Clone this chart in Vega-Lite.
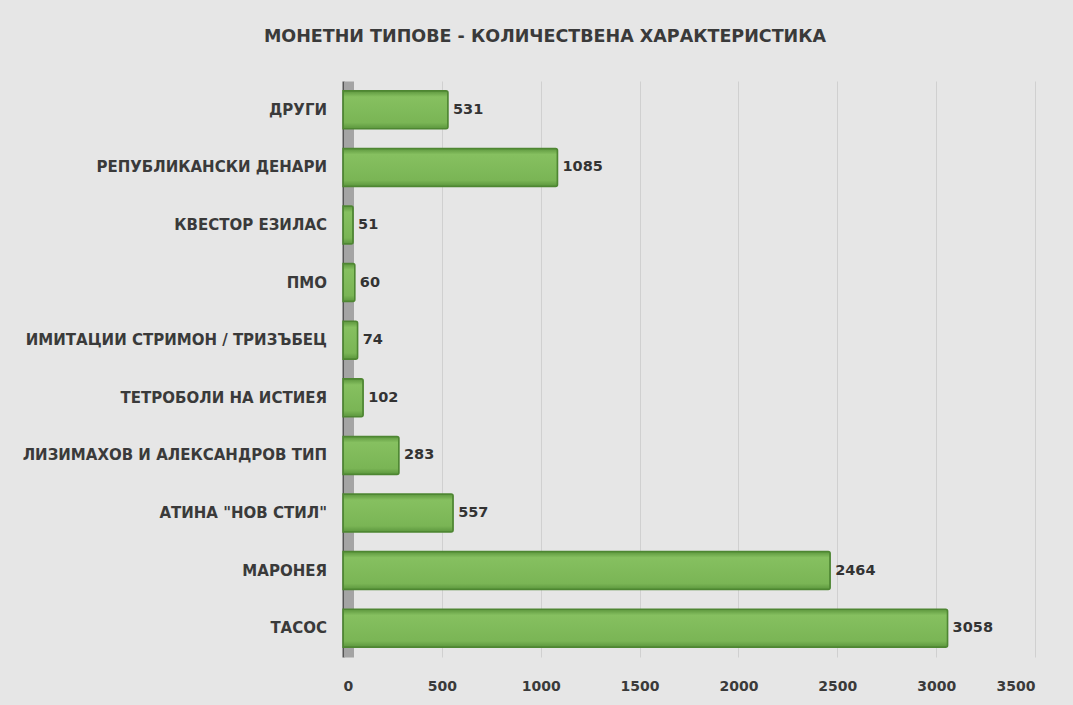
{
  "$schema": "https://vega.github.io/schema/vega-lite/v6.json",
  "autosize": {"type": "none"},
  "width": 692,
  "height": 576,
  "padding": {"left": 343, "top": 81, "right": 38, "bottom": 48},
  "background": "#e6e6e6",
  "title": {
    "text": "МОНЕТНИ ТИПОВЕ - КОЛИЧЕСТВЕНА ХАРАКТЕРИСТИКА",
    "font": "DejaVu Sans",
    "fontSize": 17.5,
    "fontWeight": "bold",
    "color": "#3a3a3a",
    "anchor": "middle",
    "frame": "group",
    "dx": -144,
    "offset": 36
  },
  "data": {
    "values": [
      {"type": "ДРУГИ", "count": 531},
      {"type": "РЕПУБЛИКАНСКИ ДЕНАРИ", "count": 1085},
      {"type": "КВЕСТОР ЕЗИЛАС", "count": 51},
      {"type": "ПМО", "count": 60},
      {"type": "ИМИТАЦИИ СТРИМОН / ТРИЗЪБЕЦ", "count": 74},
      {"type": "ТЕТРОБОЛИ НА ИСТИЕЯ", "count": 102},
      {"type": "ЛИЗИМАХОВ И АЛЕКСАНДРОВ ТИП", "count": 283},
      {"type": "АТИНА \"НОВ СТИЛ\"", "count": 557},
      {"type": "МАРОНЕЯ", "count": 2464},
      {"type": "ТАСОС", "count": 3058}
    ]
  },
  "encoding": {
    "y": {
      "field": "type",
      "type": "nominal",
      "sort": null,
      "scale": {"paddingInner": 0.34, "paddingOuter": 0.17},
      "axis": {
        "title": null,
        "labelFont": "DejaVu Sans",
        "labelFontSize": 15,
        "labelFontWeight": "bold",
        "labelColor": "#3a3a3a",
        "labelLimit": 400,
        "labelPadding": 22,
        "ticks": false,
        "offset": -5.5,
        "domainColor": "#a4a4a4",
        "domainWidth": 10
      }
    },
    "x": {
      "field": "count",
      "type": "quantitative",
      "scale": {"domain": [0, 3500], "nice": false},
      "axis": {
        "title": null,
        "values": [0, 500, 1000, 1500, 2000, 2500, 3000, 3500],
        "format": "d",
        "labelFont": "DejaVu Sans",
        "labelFontSize": 14,
        "labelFontWeight": "bold",
        "labelColor": "#3a3a3a",
        "labelPadding": 22,
        "ticks": false,
        "domain": false,
        "grid": true,
        "gridColor": {"condition": {"test": "datum.value === 0", "value": "#555555"}, "value": "#d0d0d0"},
        "gridWidth": {"condition": {"test": "datum.value === 0", "value": 2}, "value": 1}
      }
    }
  },
  "layer": [
    {
      "mark": {
        "type": "bar",
        "fill": {
          "gradient": "linear",
          "x1": 0, "y1": 0, "x2": 0, "y2": 1,
          "stops": [
            {"offset": 0, "color": "#5c963d"},
            {"offset": 0.16, "color": "#86c060"},
            {"offset": 0.84, "color": "#7ab555"},
            {"offset": 1, "color": "#5b963d"}
          ]
        },
        "stroke": "#4e8632",
        "strokeWidth": 1.5,
        "cornerRadiusEnd": 2
      }
    },
    {
      "mark": {
        "type": "text",
        "align": "left",
        "baseline": "middle",
        "dx": 5,
        "font": "DejaVu Sans",
        "fontSize": 14.5,
        "fontWeight": "bold",
        "color": "#333333"
      },
      "encoding": {"text": {"field": "count", "type": "quantitative"}}
    }
  ],
  "config": {"view": {"stroke": null}}
}
